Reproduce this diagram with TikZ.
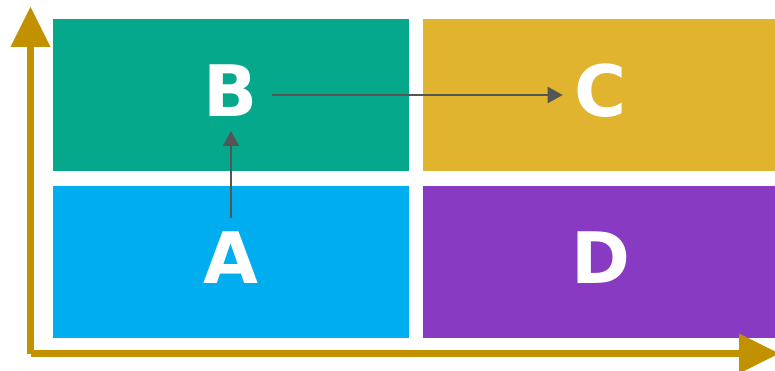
\documentclass[tikz,border=0pt]{standalone}
\usepackage{fontspec}
\newfontfamily\lettfont{DejaVu Sans}
\usetikzlibrary{arrows.meta}
\definecolor{boxgreen}{HTML}{05A88A}
\definecolor{boxyellow}{HTML}{E1B42F}
\definecolor{boxblue}{HTML}{00AEEF}
\definecolor{boxpurple}{HTML}{883BC2}
\definecolor{axisgold}{HTML}{C29100}
\definecolor{conngray}{HTML}{555555}
\tikzset{
  cell/.style={minimum width=356pt, minimum height=152pt, inner sep=0pt, draw=none},
  letter/.style={text=white, inner sep=0pt, yshift=4pt,
    font=\lettfont\bfseries\fontsize{71}{71}\selectfont},
  conn/.style={draw=conngray, line width=2pt, -{Triangle[width=16pt,length=15pt]}},
  axisline/.style={draw=axisgold, line width=7.5pt, line cap=butt},
  axishead/.style={fill=axisgold, draw=none}
}
\begin{document}
\begin{tikzpicture}[x=1pt, y=-1pt]
  \useasboundingbox (0,0) rectangle (775,371);

  % quadrants
  \node[cell, fill=boxgreen]  (b) at (231,95)  {};
  \node[cell, fill=boxyellow] (c) at (601,95)  {};
  \node[cell, fill=boxblue]   (a) at (231,262) {};
  \node[cell, fill=boxpurple] (d) at (601,262) {};

  % quadrant letters
  \node[letter] (lb) at (b) {B};
  \node[letter] (lc) at (c) {C};
  \node[letter] (la) at (a) {A};
  \node[letter] (ld) at (d) {D};

  % transitions
  \draw[conn, shorten <=44pt, shorten >=36pt] (a.center) -- (b.center);
  \draw[conn, shorten <=40.7pt, shorten >=38.3pt] (b.center) -- (c.center);

  % axes
  \coordinate (origin) at (30.5,353.5);
  \coordinate (ytop) at (30.5,47);
  \coordinate (xend) at (739,353.5);
  \draw[axisline] (origin) -- (ytop);
  \draw[axisline] (origin) -- (xend);
  \fill[axishead] (10.5,47) -- (50.5,47) -- (30.5,7) -- cycle;
  \fill[axishead] (739,333.5) -- (739,373.5) -- (779,353.5) -- cycle;
\end{tikzpicture}
\end{document}
